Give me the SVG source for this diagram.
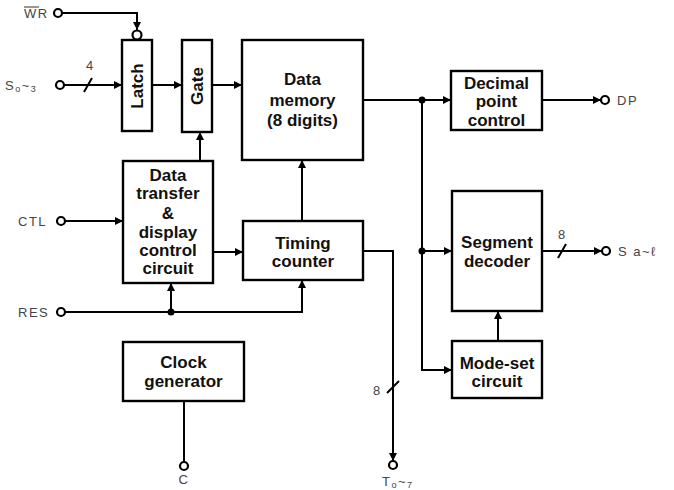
<svg xmlns="http://www.w3.org/2000/svg" width="674" height="490" viewBox="0 0 674 490">
<defs>
<marker id="ah" viewBox="0 0 10 10" refX="10" refY="5" markerWidth="4" markerHeight="4" orient="auto" markerUnits="strokeWidth">
<path d="M0,0 L10,5 L0,10 z" fill="#000"/>
</marker>
<style>
.box{fill:#fff;stroke:#000;stroke-width:2.4}
.t{font-family:"Liberation Sans",Arial,sans-serif;font-weight:bold;font-size:17px;text-anchor:middle;fill:#111}
.lb{font-family:"Liberation Sans",Arial,sans-serif;font-size:13px;fill:#444;letter-spacing:1.5px}
.w{fill:none;stroke:#000;stroke-width:2}
.a{fill:none;stroke:#000;stroke-width:2;marker-end:url(#ah)}
.pin{fill:#fff;stroke:#000;stroke-width:2.2}
.dot{fill:#000}
</style>
</defs>
<rect width="674" height="490" fill="#fff"/>

<g id="connectors">
<path class="a" d="M62,13 H137 V30"/>
<path class="a" d="M64,85 H122"/>
<path class="w" d="M84,92 L92,78"/>
<path class="a" d="M152,85 H182"/>
<path class="a" d="M212,85 H242"/>
<path class="a" d="M200,161 V132"/>
<path class="a" d="M65,221 H123"/>
<path class="a" d="M213,252 H243"/>
<path class="a" d="M302,221 V160"/>
<path class="a" d="M65,312 H302 V280"/>
<path class="a" d="M171,312 V283"/>
<circle class="dot" cx="171" cy="312" r="3.5"/>
<path class="a" d="M363,100 H451"/>
<circle class="dot" cx="422" cy="100" r="3.5"/>
<path class="a" d="M542,100 H601"/>
<path class="a" d="M422,100 V370 H452"/>
<path class="a" d="M422,251 H452"/>
<circle class="dot" cx="422" cy="251" r="3.5"/>
<path class="a" d="M542,251 H602"/>
<path class="w" d="M558,258 L566,244"/>
<path class="a" d="M498,341 V311"/>
<path class="a" d="M363,251 H393 V461"/>
<path class="w" d="M387,393 L399,381"/>
<path class="w" d="M184,401 V462"/>
</g>

<g id="pins">
<circle class="pin" cx="58" cy="13" r="4"/>
<circle class="pin" cx="60" cy="85" r="4"/>
<circle class="pin" cx="61" cy="221" r="4"/>
<circle class="pin" cx="61" cy="312" r="4"/>
<circle class="pin" cx="605" cy="100" r="4"/>
<circle class="pin" cx="606" cy="251" r="4"/>
<circle class="pin" cx="184" cy="466" r="4"/>
<circle class="pin" cx="393" cy="465" r="4"/>
</g>

<g id="labels">
<text class="lb" x="24" y="18" font-size="11" letter-spacing="0.5">WR</text>
<path d="M24,7 H39" stroke="#444" stroke-width="1.1"/>
<text class="lb" x="5" y="90">S<tspan font-size="9" dy="2">o</tspan><tspan dy="-2">~</tspan><tspan font-size="9" dy="2">3</tspan></text>
<text class="lb" x="86" y="70">4</text>
<text class="lb" x="18" y="226">CTL</text>
<text class="lb" x="18" y="317">RES</text>
<text class="lb" x="617" y="105">DP</text>
<text class="lb" x="558" y="239">8</text>
<text class="lb" x="618" y="256">S a~ℓ</text>
<text class="lb" x="373" y="395">8</text>
<text class="lb" x="184" y="484" text-anchor="middle" letter-spacing="0">C</text>
<text class="lb" x="382" y="486">T<tspan font-size="9" dy="2">o</tspan><tspan dy="-2">~</tspan><tspan font-size="9" dy="2">7</tspan></text>
</g>

<g id="latch">
<circle class="pin" cx="137" cy="35" r="4.5"/>
<rect class="box" x="122" y="40" width="30" height="91"/>
<text class="t" transform="translate(143,86) rotate(-90)">Latch</text>
</g>

<g id="gate">
<rect class="box" x="182" y="40" width="30" height="92"/>
<text class="t" transform="translate(203,86) rotate(-90)">Gate</text>
</g>

<g id="data-memory">
<rect class="box" x="242" y="40" width="121" height="120"/>
<text class="t" x="302.5" y="85">Data</text>
<text class="t" x="302.5" y="106">memory</text>
<text class="t" x="302.5" y="126">(8 digits)</text>
</g>

<g id="decimal-point-control">
<rect class="box" x="451" y="71" width="91" height="59"/>
<text class="t" x="496.5" y="89">Decimal</text>
<text class="t" x="496.5" y="107">point</text>
<text class="t" x="496.5" y="126">control</text>
</g>

<g id="data-transfer">
<rect class="box" x="123" y="161" width="90" height="122"/>
<text class="t" x="168" y="181">Data</text>
<text class="t" x="168" y="199">transfer</text>
<text class="t" x="168" y="219">&amp;</text>
<text class="t" x="168" y="238">display</text>
<text class="t" x="168" y="256">control</text>
<text class="t" x="168" y="274">circuit</text>
</g>

<g id="timing-counter">
<rect class="box" x="243" y="221" width="120" height="59"/>
<text class="t" x="303" y="249">Timing</text>
<text class="t" x="303" y="267">counter</text>
</g>

<g id="segment-decoder">
<rect class="box" x="452" y="191" width="90" height="120"/>
<text class="t" x="497" y="248">Segment</text>
<text class="t" x="497" y="267">decoder</text>
</g>

<g id="mode-set">
<rect class="box" x="452" y="341" width="90" height="57"/>
<text class="t" x="497" y="369">Mode-set</text>
<text class="t" x="497" y="387">circuit</text>
</g>

<g id="clock-generator">
<rect class="box" x="123" y="342" width="121" height="59"/>
<text class="t" x="183.5" y="368">Clock</text>
<text class="t" x="183.5" y="387">generator</text>
</g>
</svg>
